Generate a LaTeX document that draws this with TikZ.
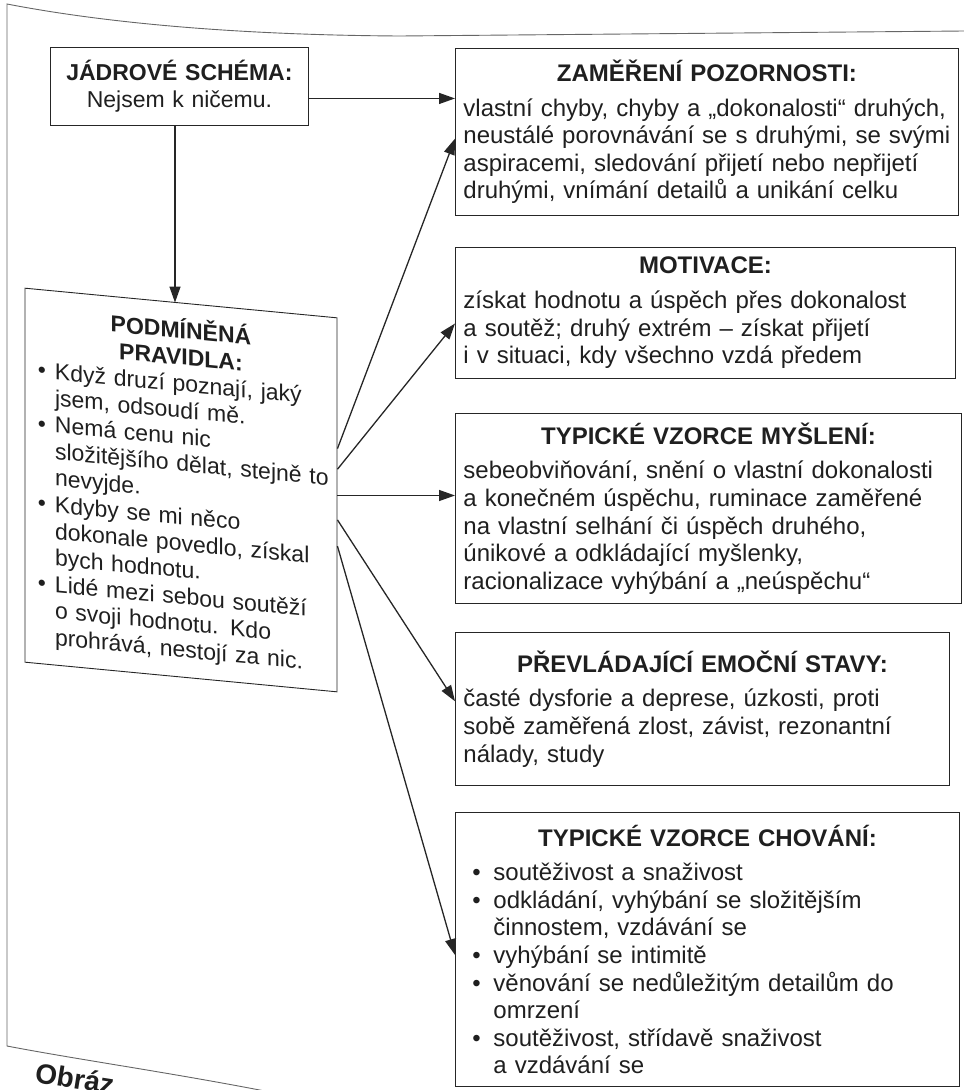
\documentclass[tikz,border=0pt]{standalone}
\usepackage{fontspec}
\setmainfont{Liberation Sans}
\usetikzlibrary{arrows.meta,calc}

% a bullet item with hanging indent; lines inside are broken with \newline
\newcommand{\bitem}[2]{\par\noindent\hangindent=#1\hangafter=1\makebox[#1][l]{\textbullet}#2}
\newcommand{\boxhead}[1]{{\centering\bfseries #1\par}\vspace{7pt}}

\begin{document}
\begin{tikzpicture}[x=1pt,y=-1pt,
  every node/.style={text=black!88},
  box/.style={draw=black!85, line width=0.9pt, anchor=north west, inner xsep=8pt,
    inner ysep=4pt, align=left, font=\fontsize{24}{27.6}\selectfont},
  conn/.style={draw=black!85, line width=1.3pt, -{Triangle[length=16pt,width=11pt]}},
  frame/.style={draw=black!60, line width=0.9pt},
]
\useasboundingbox (0,0) rectangle (964,1090);

% page frame
\draw[frame] (964,31) -- (400,36) .. controls (230,35) and (100,22) .. (7,4) -- (7,1046)
  .. controls (80,1060) and (180,1074) .. (280,1094);
\node[anchor=base west, rotate=-9, inner sep=0pt, font=\fontsize{28}{28}\selectfont\bfseries]
  (cap) at (34,1082) {Obráz};

% core schema
\node[box, align=center, text width=242pt, minimum width=258pt, minimum height=78pt,
  font=\fontsize{23}{27}\selectfont] (jadro) at (50,47)
  {{\bfseries JÁDROVÉ SCHÉMA:}\\Nejsem k ničemu.};

% conditional rules (the sheet is slightly skewed here)
\node[box, anchor=center, yslant=-0.095, text width=296pt, minimum width=312pt, minimum height=374pt,
  inner xsep=8pt, inner ysep=2pt, font=\fontsize{23}{26.6}\selectfont] (pod) at (181,490)
  {{\centering\bfseries PODMÍNĚNÁ\\PRAVIDLA:\par}
   \leftskip=5pt
   \bitem{17pt}{Když druzí poznají, jaký\newline jsem, odsoudí mě.}
   \bitem{17pt}{Nemá cenu nic\newline složitějšího dělat, stejně to\newline nevyjde.}
   \bitem{17pt}{Kdyby se mi něco\newline dokonale povedlo, získal\newline bych hodnotu.}
   \bitem{17pt}{Lidé mezi sebou soutěží\newline o svoji hodnotu. Kdo\newline prohrává, nestojí za nic.}\par};

% right column
\node[box, text width=487pt, minimum width=502pt, minimum height=167pt] (zp) at (455,48)
  {\boxhead{ZAMĚŘENÍ POZORNOSTI:}
   vlastní chyby, chyby a „dokonalosti“ druhých,\\
   neustálé porovnávání se s druhými, se svými\\
   aspiracemi, sledování přijetí nebo nepřijetí\\
   druhými, vnímání detailů a unikání celku};

\node[box, text width=484pt, minimum width=498pt, minimum height=131pt] (mot) at (455,247)
  {\boxhead{MOTIVACE:}
   získat hodnotu a úspěch přes dokonalost\\
   a soutěž; druhý extrém – získat přijetí\\
   i v situaci, kdy všechno vzdá předem};

\node[box, text width=490pt, minimum width=505pt, minimum height=190pt] (mys) at (455,413)
  {\boxhead{TYPICKÉ VZORCE MYŠLENÍ:}
   sebeobviňování, snění o vlastní dokonalosti\\
   a konečném úspěchu, ruminace zaměřené\\
   na vlastní selhání či úspěch druhého,\\
   únikové a odkládající myšlenky,\\
   racionalizace vyhýbání a „neúspěchu“};

\node[box, text width=478pt, minimum width=493pt, minimum height=153pt] (emo) at (455,632)
  {\boxhead{PŘEVLÁDAJÍCÍ EMOČNÍ STAVY:}
   časté dysforie a deprese, úzkosti, proti\\
   sobě zaměřená zlost, závist, rezonantní\\
   nálady, study};

\node[box, text width=488pt, minimum width=503pt, minimum height=274pt] (cho) at (455,812)
  {\boxhead{TYPICKÉ VZORCE CHOVÁNÍ:}
   \leftskip=9pt
   \bitem{21pt}{soutěživost a snaživost}
   \bitem{21pt}{odkládání, vyhýbání se složitějším\newline činnostem, vzdávání se}
   \bitem{21pt}{vyhýbání se intimitě}
   \bitem{21pt}{věnování se nedůležitým detailům do\newline omrzení}
   \bitem{21pt}{soutěživost, střídavě snaživost\newline a vzdávání se}\par};

% connectors
\coordinate (j1) at ([yshift=-12pt]jadro.east);
\draw[conn] (j1) -- (zp.west |- j1);
\draw[conn] (jadro.south -| 175,0) -- (175,0 |- pod.north);

\coordinate (p1) at ($(pod.north east)!0.35!(pod.south east)$);
\coordinate (p2) at ($(pod.north east)!0.405!(pod.south east)$);
\coordinate (p3) at ($(pod.north east)!0.475!(pod.south east)$);
\coordinate (p4) at ($(pod.north east)!0.54!(pod.south east)$);
\coordinate (p5) at ($(pod.north east)!0.61!(pod.south east)$);

\draw[conn] (p1) -- ($(zp.north west)!0.54!(zp.south west)$);
\draw[conn] (p2) -- ($(mot.north west)!0.58!(mot.south west)$);
\draw[conn] (p3) -- (mys.west |- p3);
\draw[conn] (p4) -- ($(emo.north west)!0.45!(emo.south west)$);
\draw[conn] (p5) -- ($(cho.north west)!0.52!(cho.south west)$);
\end{tikzpicture}
\end{document}
